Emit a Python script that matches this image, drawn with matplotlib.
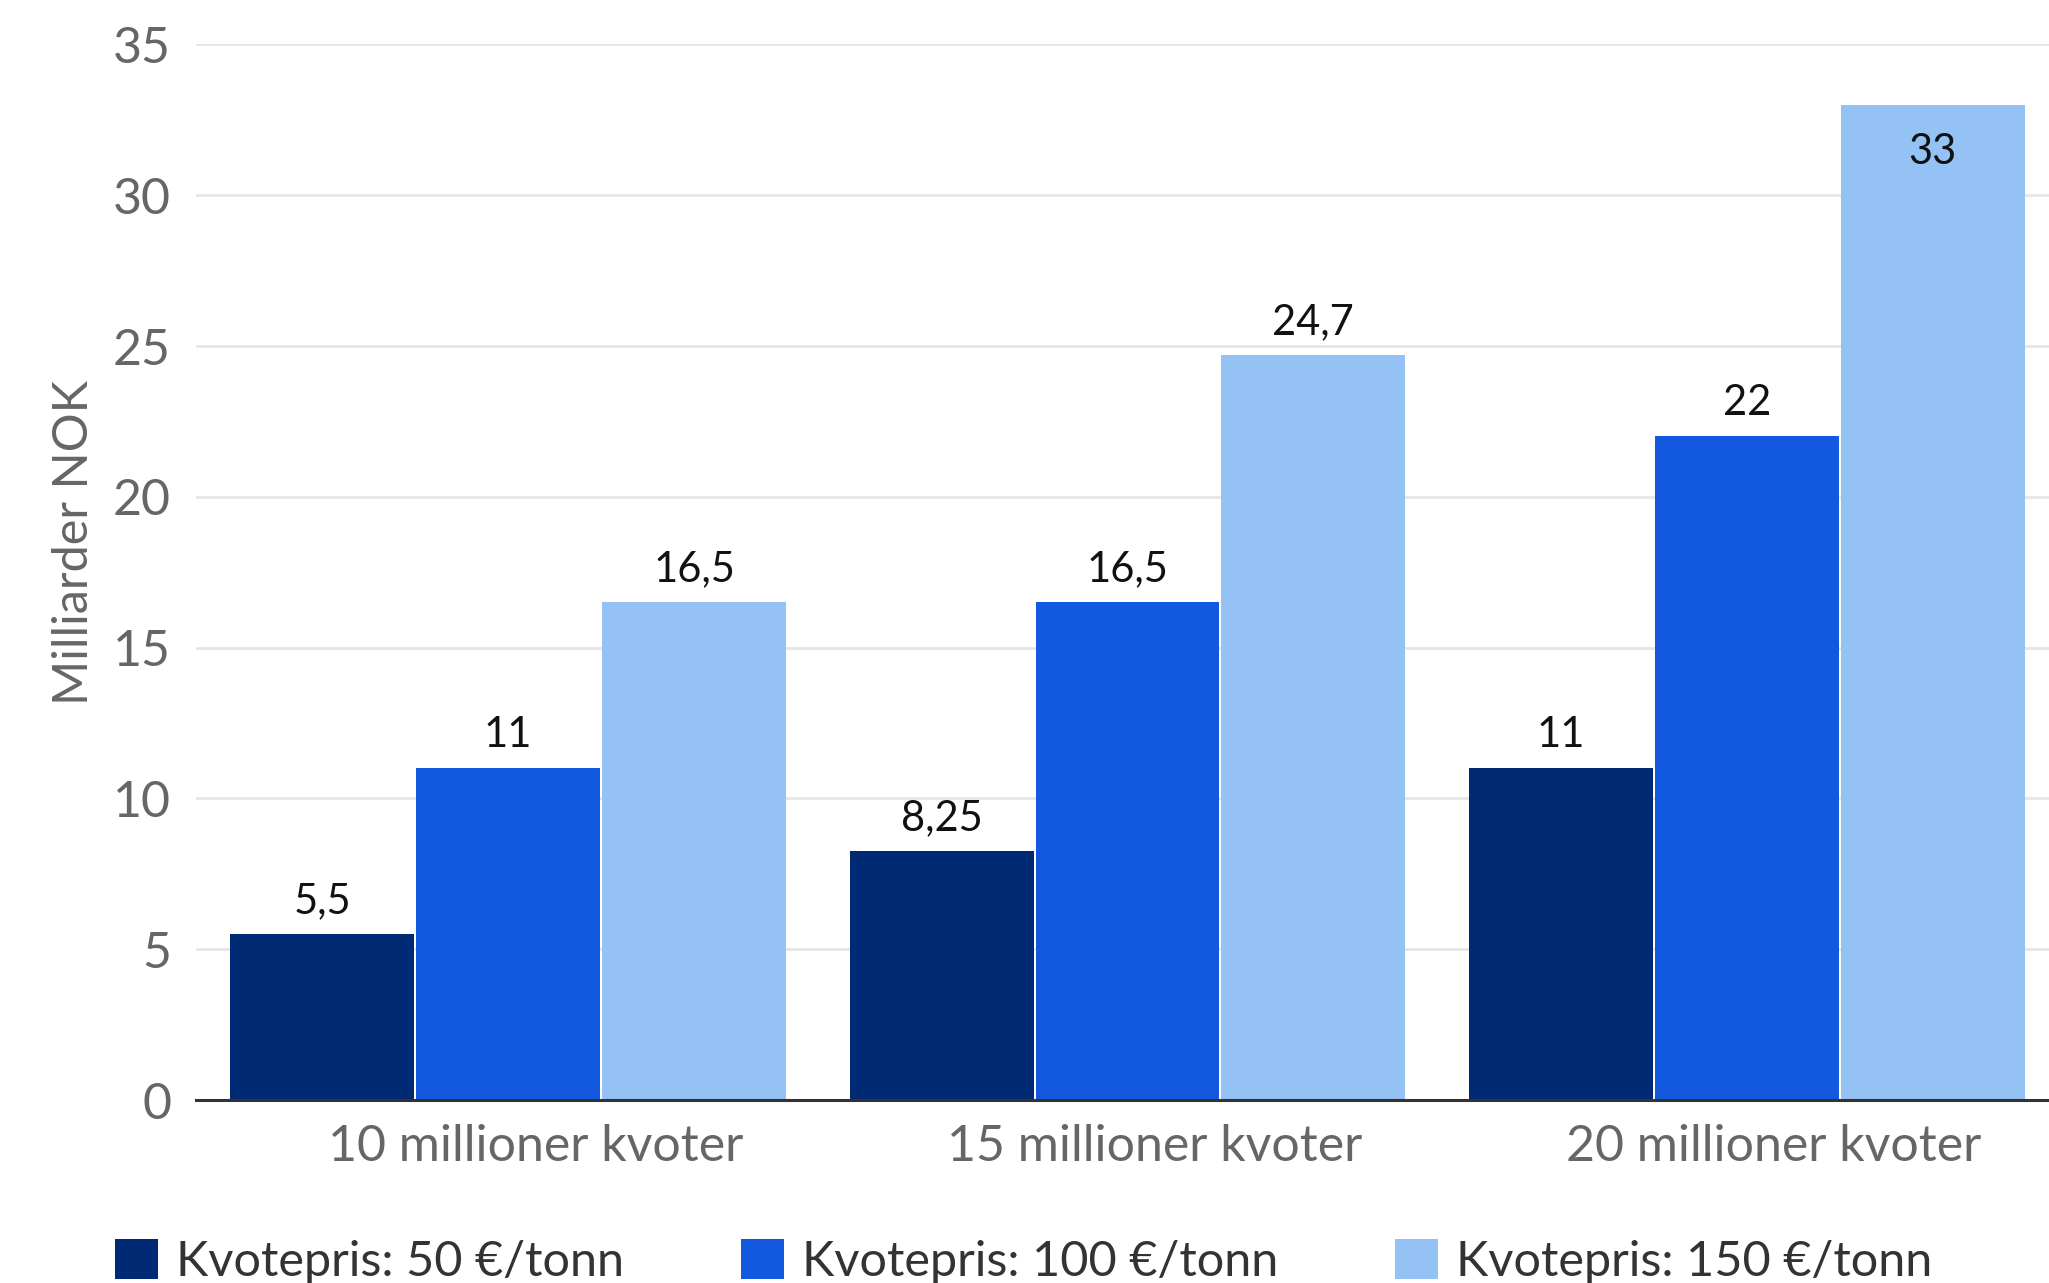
import numpy as np
import matplotlib
matplotlib.use("Agg")
import matplotlib.pyplot as plt
from matplotlib.patches import Patch
from matplotlib.transforms import ScaledTranslation

plt.rcParams["font.family"] = ["Lato", "DejaVu Sans"]

categories = ["10 millioner kvoter", "15 millioner kvoter", "20 millioner kvoter"]
series_names = ["Kvotepris: 50 €/tonn", "Kvotepris: 100 €/tonn", "Kvotepris: 150 €/tonn"]
values_50 = [5.5, 8.25, 11]
values_100 = [11, 16.5, 22]
values_150 = [16.5, 24.7, 33]
value_labels = [["5,5", "8,25", "11"], ["11", "16,5", "22"], ["16,5", "24,7", "33"]]
colors = ["#012a74", "#1259df", "#95c2f5"]
y_ticks = [0, 5, 10, 15, 20, 25, 30, 35]

fig = plt.figure(figsize=(20.49, 12.83), dpi=100)
ax = fig.add_axes([0.0957, 0.1426, 0.9043, 0.8228])

x = np.arange(len(categories))
width = 0.297
offsets = [-0.3, 0.0, 0.3]
ymax = 35

for vals, labels, off, col, name in zip([values_50, values_100, values_150], value_labels,
                                        offsets, colors, series_names):
    bars = ax.bar(x + off, vals, width, color=col, label=name, zorder=2)
    for b, v, lab in zip(bars, vals, labels):
        cx = b.get_x() + b.get_width() / 2
        if v + 3 > ymax:
            # no room above the bar, put the label inside
            ax.annotate(lab, (cx, v), xytext=(0, -34), textcoords="offset points",
                        ha="center", va="center", fontsize=30, color="#111111", zorder=3)
        else:
            ax.annotate(lab, (cx, v), xytext=(0, 24), textcoords="offset points",
                        ha="center", va="center", fontsize=30, color="#111111", zorder=3)

ax.set_xlim(-0.504, 2.488)
ax.set_ylim(0, ymax)
ax.set_yticks(y_ticks)
ax.set_yticklabels([str(t) for t in y_ticks])
ax.grid(axis="y", color="#e6e6e6", linewidth=2, zorder=0)
ax.set_axisbelow(True)
for s in ["top", "right", "left"]:
    ax.spines[s].set_visible(False)
ax.spines["bottom"].set_color("#333333")
ax.spines["bottom"].set_linewidth(2.2)
ax.spines["bottom"].set_zorder(4)

ax.set_xticks(x)
ax.set_xticklabels(categories)
ax.tick_params(axis="x", length=0, pad=17, labelsize=36, labelcolor="#666666")
ax.tick_params(axis="y", length=0, pad=18, labelsize=36, labelcolor="#666666")
shift = ScaledTranslation(27 / 100, 0, fig.dpi_scale_trans)
for t in ax.get_xticklabels():
    t.set_transform(t.get_transform() + shift)

fig.text(74.5 / 2049, 1 - 542 / 1283, "Milliarder NOK", rotation=90, ha="center", va="center",
         fontsize=35, color="#666666")

handles = [Patch(facecolor=c, edgecolor="none") for c in colors]
fig.legend(handles, series_names, loc="center left", bbox_to_anchor=(0.0561, 0.017),
           ncol=3, frameon=False, fontsize=35, labelcolor="#333333",
           handlelength=0.88, handleheight=0.88, handletextpad=0.38,
           columnspacing=2.4, borderpad=0, borderaxespad=0)

fig.savefig("out.png", dpi=100)
